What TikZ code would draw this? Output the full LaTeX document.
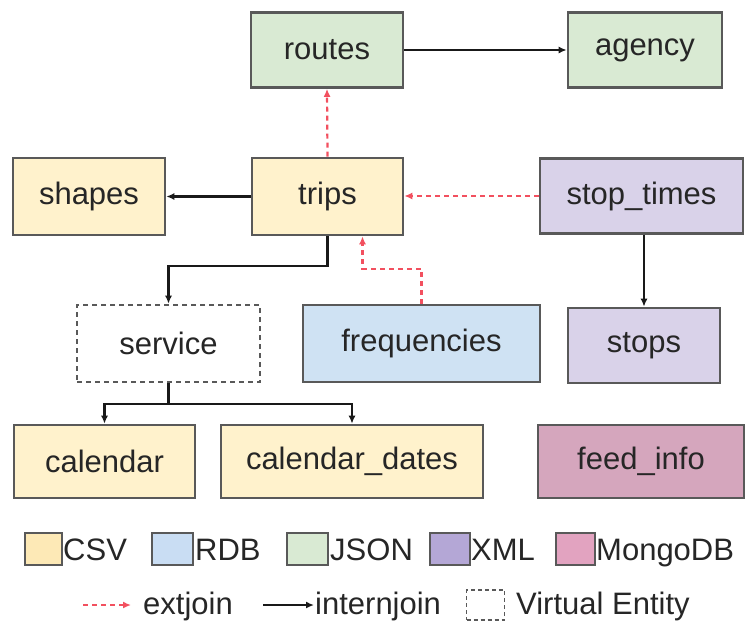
\documentclass[tikz,border=0pt]{standalone}
\usepackage{fontspec}
\setmainfont{Liberation Sans}
\usetikzlibrary{arrows.meta,calc}

\definecolor{csvfill}{HTML}{FFF2CC}
\definecolor{rdbfill}{HTML}{CFE2F3}
\definecolor{jsonfill}{HTML}{D9EAD3}
\definecolor{xmlfill}{HTML}{D9D2E9}
\definecolor{mongofill}{HTML}{D5A6BD}
\definecolor{xmlswatch}{HTML}{B4A7D6}
\definecolor{mongoswatch}{HTML}{E2A3C0}
\definecolor{csvswatch}{HTML}{FDE9B6}
\definecolor{rdbswatch}{HTML}{C9DDF3}
\definecolor{edgegray}{HTML}{595959}
\definecolor{txt}{HTML}{262626}
\definecolor{extred}{HTML}{F2505F}

\tikzset{
  entity/.style={draw=edgegray, line width=2.6pt, rectangle, inner sep=0pt,
    minimum height=75pt, text=txt, font=\fontsize{31}{36}\selectfont},
  virtual/.style={entity, dash pattern=on 5pt off 4pt},
  swatch/.style={draw=edgegray, line width=2.2pt, rectangle, inner sep=0pt,
    minimum width=37pt, minimum height=32pt},
  legtext/.style={anchor=base west, inner sep=0pt, text=txt,
    font=\fontsize{31}{36}\selectfont},
  ij/.style={draw=black!90, line width=2.2pt,
    -{Latex[length=8pt,width=7pt]}},
  ej/.style={draw=extred, line width=2.2pt, dash pattern=on 5pt off 4pt,
    -{Latex[length=8pt,width=7pt]}},
}

\begin{document}
\begin{tikzpicture}[x=1pt,y=-1pt]
\useasboundingbox (0,0) rectangle (746,624);

% entities
\node[entity, fill=jsonfill, minimum width=152pt] (routes) at (327,50) {routes};
\node[entity, fill=jsonfill, minimum width=154pt] (agency) at (645,50) {agency};
\node[entity, fill=csvfill, minimum width=152pt, minimum height=77pt] (shapes) at (89,196.5) {shapes};
\node[entity, fill=csvfill, minimum width=151pt, minimum height=77pt] (trips) at (327.5,196.5) {trips};
\node[entity, fill=xmlfill, minimum width=203pt] (stoptimes) at (641.5,196) {stop\_times};
\node[virtual, fill=white, minimum width=183pt, minimum height=77pt] (service) at (168.5,343.5) {service};
\node[entity, fill=rdbfill, minimum width=237pt, minimum height=77pt] (freq) at (421.5,343.5) {frequencies};
\node[entity, fill=xmlfill, minimum width=152pt] (stops) at (644,345.5) {stops};
\node[entity, fill=csvfill, minimum width=181pt, minimum height=73pt] (calendar) at (104.5,461.5) {calendar};
\node[entity, fill=csvfill, minimum width=262pt, minimum height=73pt] (caldates) at (352,461.5) {calendar\_dates};
\node[entity, fill=mongofill, minimum width=206pt, minimum height=73pt] (feedinfo) at (641,461.5) {feed\_info};

% internal joins
\draw[ij] (routes.east) -- (agency.west);
\draw[ij] (trips.west) -- (shapes.east);
\draw[ij] (trips.south) -- ++(0,30) -| (service.north);
\draw[ij] (service.south) -- ++(0,21) coordinate (split) -| (calendar.north);
\draw[ij] (split) -| (caldates.north);
\draw[ij] (stoptimes.south -| stops.north) -- (stops.north);

% external joins
\draw[ej] (trips.north) -- (routes.south);
\draw[ej] (stoptimes.west) -- (stoptimes.west -| trips.east);
\draw[ej] (freq.north) -- ++(0,-35) -| ([xshift=35pt]trips.south);

% legend: data sources
\node[swatch, fill=csvswatch] (lcsv) at (43.5,549) {};
\node[legtext] (tcsv) at (63,560) {CSV};
\node[swatch, fill=rdbswatch, minimum width=41pt] (lrdb) at (172.5,549) {};
\node[legtext] (trdb) at (195,560) {RDB};
\node[swatch, fill=jsonfill, minimum width=41pt] (ljson) at (307.5,549) {};
\node[legtext] (tjson) at (330,560) {JSON};
\node[swatch, fill=xmlswatch, minimum width=40pt] (lxml) at (450,549) {};
\node[legtext] (txml) at (471,560) {XML};
\node[swatch, fill=mongoswatch, minimum width=39pt] (lmongo) at (575.5,549) {};
\node[legtext] (tmongo) at (596,560) {MongoDB};

% legend: joins and virtual entity
\coordinate (e1) at (83,605);
\coordinate (e2) at (131,605);
\draw[ej] (e1) -- (e2);
\node[legtext] (text) at (143,614) {extjoin};
\coordinate (i1) at (263,605);
\coordinate (i2) at (314,605);
\draw[ij] (i1) -- (i2);
\node[legtext] (tint) at (315,614) {internjoin};
\node[swatch, fill=white, dash pattern=on 4pt off 3pt, line width=1.6pt,
  minimum width=38pt, minimum height=30pt] (lvirt) at (485.5,605) {};
\node[legtext] (tvirt) at (516,614) {Virtual Entity};
\end{tikzpicture}
\end{document}
